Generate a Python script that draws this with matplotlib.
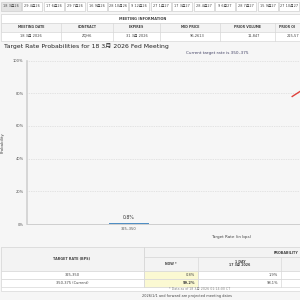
import matplotlib
matplotlib.use('Agg')
import matplotlib.pyplot as plt
from matplotlib.patches import Rectangle

plt.rcParams['font.family'] = ['DejaVu Sans', 'Noto Sans CJK JP']

# --- data ---
meeting_tabs = ['18 3月26', '29 4月26', '17 6月26', '29 7月26', '16 9月26', '28 10月26',
                '9 12月26', '27 1月27', '17 3月27', '28 4月27', '9 6月27', '28 7月27',
                '15 9月27', '27 10月27']
info_headers = ['MEETING DATE', 'CONTRACT', 'EXPIRES', 'MID PRICE', 'PRIOR VOLUME', 'PRIOR OI']
info_values = ['18 3月 2026', 'ZQH6', '31 3月 2026', '96.2613', '11,847', '215,57']
categories = ['325–350', '350–375']
prob_now = [0.8, 99.2]
prob_1day = [1.9, 98.1]
table_rates = ['325-350', '350-375 (Current)']
current_rate = '350–375'

W = H = 300
fig = plt.figure(figsize=(3, 3), dpi=100, facecolor='#f6f6f6')

# page layer in pixel coords
pg = fig.add_axes([0, 0, 1, 1])
pg.set_xlim(0, W)
pg.set_ylim(H, 0)
pg.axis('off')

grey_txt = '#444444'
line_c = '#d8d8d8'

def box(x, y, w, h, fc='white', ec=line_c, lw=0.5):
    pg.add_patch(Rectangle((x, y), w, h, facecolor=fc, edgecolor=ec, lw=lw))

# --- tabs ---
for i, t in enumerate(meeting_tabs):
    x = 1 + i * 21.4
    box(x, 2, 20, 8.5, fc='#e4e4e4' if i == 0 else 'white', ec='#cfcfcf')
    pg.text(x + 10, 6.4, t, fontsize=2.5, ha='center', va='center', color=grey_txt)

# --- meeting information table ---
box(1, 14, 310, 26.5)
box(1, 14, 310, 9, fc='white')
box(1, 23, 310, 8.5, fc='#f3f3f3')
pg.text(143, 18.7, 'MEETING INFORMATION', fontsize=2.5, ha='center', va='center',
        color=grey_txt, fontweight='bold')
col_edges = [1, 61, 113, 160, 220, 275, 300]
for x in col_edges[1:-1]:
    pg.plot([x, x], [23, 40.5], color=line_c, lw=0.5)
for i, (hd, v) in enumerate(zip(info_headers, info_values)):
    cx = (col_edges[i] + col_edges[i + 1]) / 2
    if i == len(info_headers) - 1:
        cx = 287
    pg.text(cx, 27.4, hd, fontsize=2.3, ha='center', va='center', color=grey_txt,
            fontweight='bold')
    if i < 3:
        pg.text(cx, 35.6, v, fontsize=2.6, ha='center', va='center', color=grey_txt)
    elif i < len(info_headers) - 1:
        pg.text(col_edges[i + 1] - 15, 35.6, v, fontsize=2.6, ha='right', va='center',
                color=grey_txt)
    else:
        pg.text(299, 35.6, v, fontsize=2.6, ha='right', va='center', color=grey_txt)

# --- title ---
pg.text(4, 46, 'Target Rate Probabilities for 18 3月 2026 Fed Meeting', fontsize=4.4,
        ha='left', va='center', color='#222222')

# --- chart ---
left, right, top, bottom = 27, 435, 60.5, 224
ax = fig.add_axes([left / W, 1 - bottom / H, (right - left) / W, (bottom - top) / H])
ax.set_facecolor('#f6f6f6')
xpos = list(range(len(categories)))
bars = ax.bar(xpos, prob_now, width=0.2, color='#4f8ec4', zorder=3)
ax.set_xlim(-0.5, len(categories) - 0.5)
ax.set_ylim(0, 100)

# only the categories whose centre falls inside the visible page get labels
visible = [ax.transData.transform((x, 0))[0] < W - 20 for x in xpos]
for x, p, vis in zip(xpos, prob_now, visible):
    if vis:
        ax.text(x, p + 1.8, f'{p}%', ha='center', va='bottom', fontsize=3.3,
                color='#333333')
ax.set_yticks([0, 20, 40, 60, 80, 100])
ax.set_yticklabels([f'{v}%' for v in [0, 20, 40, 60, 80, 100]])
ax.set_xticks(xpos)
ax.set_xticklabels([c if vis else '' for c, vis in zip(categories, visible)])
ax.tick_params(axis='both', length=0, labelsize=2.6, colors='#555555', pad=2.5)
ax.grid(axis='y', color='#cfcfcf', linestyle=(0, (1, 1.5)), lw=0.5, zorder=0)
for s in ['top', 'right']:
    ax.spines[s].set_visible(False)
ax.spines['left'].set_color('#d0d0d0')
ax.spines['left'].set_linewidth(1.2)
ax.spines['bottom'].set_color('#c8c8c8')
ax.spines['bottom'].set_linewidth(0.6)
ax.set_xlabel('Target Rate (in bps)', fontsize=3.0, color='#444444', labelpad=2.5)
ax.set_ylabel('Probability', fontsize=2.8, color='#444444', labelpad=6)
# pointer to the current rate bar (mostly off to the right)
ax.plot([0.80, 0.95], [78, 90], color='#e0403a', lw=1.0, zorder=4, clip_on=True)
pg.text(217, 53, f'Current target rate is {current_rate}', fontsize=3.0, ha='center',
        va='center', color='#444466')

# --- probability table ---
tx0, ty0 = 1, 247
box(tx0, ty0, 320, 44)
box(tx0, ty0, 143, 24, fc='#f3f3f3')
box(144, ty0, 180, 10, fc='#f3f3f3')
box(144, 257, 180, 14, fc='#f3f3f3')
pg.text(72, 259, 'TARGET RATE (BPS)', fontsize=2.4, ha='center', va='center',
        color=grey_txt, fontweight='bold')
pg.text(299, 252.5, 'PROBABILITY', fontsize=2.4, ha='right', va='center',
        color=grey_txt, fontweight='bold')
for x in [198, 281]:
    pg.plot([x, x], [257, 287], color=line_c, lw=0.5)
pg.text(171, 264, 'NOW *', fontsize=2.3, ha='center', va='center', color=grey_txt,
        fontweight='bold')
pg.text(240, 262, '1 DAY', fontsize=2.3, ha='center', va='center', color=grey_txt,
        fontweight='bold')
pg.text(240, 265.5, '17 3月 2026', fontsize=2.3, ha='center', va='center', color=grey_txt,
        fontweight='bold')
for i, (r, pn, pd) in enumerate(zip(table_rates, prob_now, prob_1day)):
    y = 271 + i * 8
    box(tx0, y, 320, 8, fc='white')
    box(144, y, 54, 8, fc='#fbf9d2', ec=line_c)
    pg.text(72, y + 4, r, fontsize=2.6, ha='center', va='center', color=grey_txt)
    pg.text(195, y + 4, f'{pn}%', fontsize=2.6, ha='right', va='center', color=grey_txt,
            fontweight='bold' if i == 1 else 'normal')
    pg.text(278, y + 4, f'{pd}%', fontsize=2.6, ha='right', va='center', color=grey_txt)
pg.plot([144, 144], [ty0, 287], color=line_c, lw=0.5)
pg.text(200, 288.5, '* Data as of 18 3月 2026 01:14:00 CT', fontsize=2.3, ha='center',
        va='center', color='#888888')
pg.text(187, 296, '2026/1/1 and forward are projected meeting dates', fontsize=2.5,
        ha='center', va='center', color=grey_txt)

fig.savefig('out.png', dpi=100, facecolor=fig.get_facecolor())
